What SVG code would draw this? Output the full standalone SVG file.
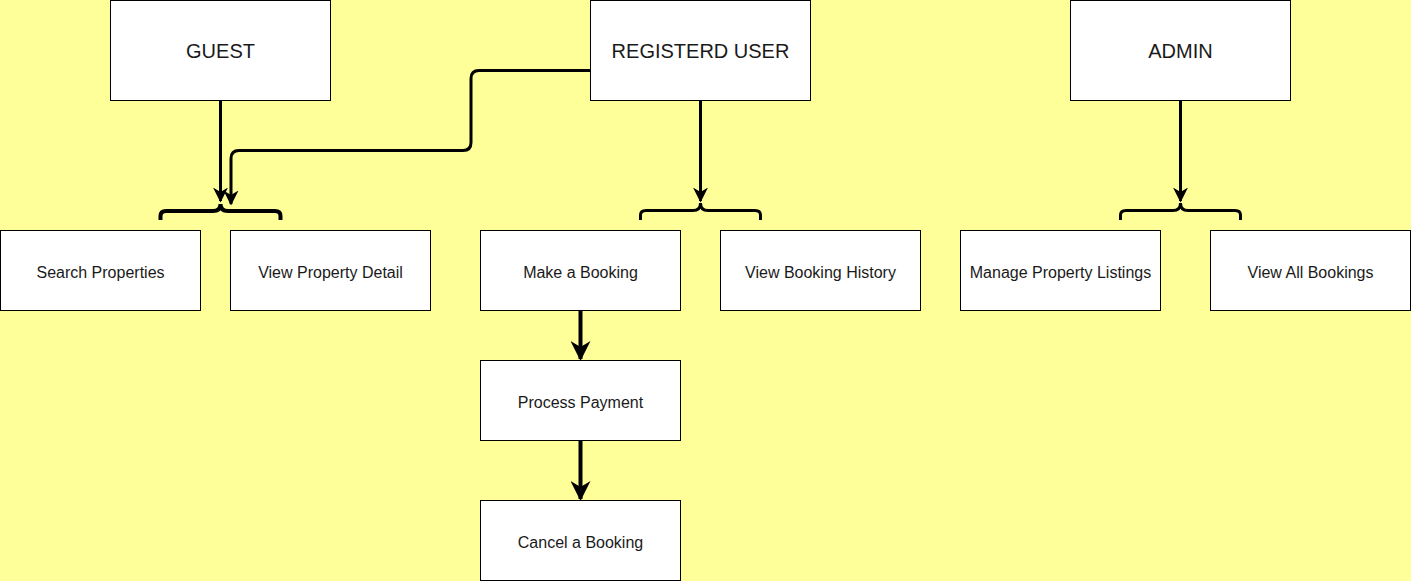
<svg xmlns="http://www.w3.org/2000/svg" width="1411" height="581" viewBox="0 0 1411 581">
<defs>
<marker id="ah" viewBox="0 0 10 10" refX="9" refY="5" markerWidth="5" markerHeight="5" orient="auto" markerUnits="strokeWidth">
<path d="M0,0 L10,5 L0,10 L3,5 Z" fill="#000"/>
</marker>
<marker id="ah2" viewBox="0 0 10 10" refX="9" refY="5" markerWidth="5" markerHeight="5" orient="auto" markerUnits="strokeWidth">
<path d="M0,0 L10,5 L0,10 L3,5 Z" fill="#000"/>
</marker>
</defs>
<style>
.box{fill:#fff;stroke:#000;stroke-width:1}
.t1{font-family:"Liberation Sans",Arial,sans-serif;font-size:20px;fill:#1a1a1a;text-anchor:middle;dominant-baseline:central}
.t2{font-family:"Liberation Sans",Arial,sans-serif;font-size:16px;fill:#1a1a1a;text-anchor:middle;dominant-baseline:central}
.c{fill:none;stroke:#000;stroke-width:3;stroke-linejoin:round}
.c4{fill:none;stroke:#000;stroke-width:4}
.br{fill:none;stroke:#000;stroke-width:3}
</style>
<rect width="1411" height="581" fill="#ffff99"/>
<g id="connectors">
<path class="c" d="M220.5,100.5 V201" marker-end="url(#ah)"/>
<path class="c" d="M590.5,70.5 H479 Q471,70.5 471,78.5 V142.5 Q471,150.5 463,150.5 H239 Q231,150.5 231,158.5 V204" marker-end="url(#ah)"/>
<path class="c" d="M700.5,100.5 V201" marker-end="url(#ah)"/>
<path class="c" d="M1180.5,100.5 V201" marker-end="url(#ah)"/>
<path class="c4" d="M580.5,310.5 V359" marker-end="url(#ah2)"/>
<path class="c4" d="M580.5,440.5 V499" marker-end="url(#ah2)"/>
<path class="br" style="stroke-width:4" d="M160.5,220 V216 Q160.5,211 166,211 H213 Q220.5,211 220.5,204 Q220.5,211 228,211 H275 Q280.5,211 280.5,216 V220"/>
<path class="br" d="M640.5,220 V215 Q640.5,210.5 646,210.5 H693 Q700.5,210.5 700.5,203 Q700.5,210.5 708,210.5 H755 Q760.5,210.5 760.5,215 V220"/>
<path class="br" d="M1120.5,220 V215 Q1120.5,210.5 1126,210.5 H1173 Q1180.5,210.5 1180.5,203 Q1180.5,210.5 1188,210.5 H1235 Q1240.5,210.5 1240.5,215 V220"/>
</g>
<g id="guest"><rect class="box" x="110.5" y="0.5" width="220" height="100"/><text class="t1" x="220.5" y="50.5">GUEST</text></g>
<g id="registered"><rect class="box" x="590.5" y="0.5" width="220" height="100"/><text class="t1" x="700.5" y="50.5">REGISTERD USER</text></g>
<g id="admin"><rect class="box" x="1070.5" y="0.5" width="220" height="100"/><text class="t1" x="1180.5" y="50.5">ADMIN</text></g>
<g id="search"><rect class="box" x="0.5" y="230.5" width="200" height="80"/><text class="t2" x="100.5" y="272.5">Search Properties</text></g>
<g id="viewdetail"><rect class="box" x="230.5" y="230.5" width="200" height="80"/><text class="t2" x="330.5" y="272.5">View Property Detail</text></g>
<g id="makebooking"><rect class="box" x="480.5" y="230.5" width="200" height="80"/><text class="t2" x="580.5" y="272.5">Make a Booking</text></g>
<g id="history"><rect class="box" x="720.5" y="230.5" width="200" height="80"/><text class="t2" x="820.5" y="272.5">View Booking History</text></g>
<g id="manage"><rect class="box" x="960.5" y="230.5" width="200" height="80"/><text class="t2" x="1060.5" y="272.5">Manage Property Listings</text></g>
<g id="allbookings"><rect class="box" x="1210.5" y="230.5" width="200" height="80"/><text class="t2" x="1310.5" y="272.5">View All Bookings</text></g>
<g id="payment"><rect class="box" x="480.5" y="360.5" width="200" height="80"/><text class="t2" x="580.5" y="402.5">Process Payment</text></g>
<g id="cancel"><rect class="box" x="480.5" y="500.5" width="200" height="80"/><text class="t2" x="580.5" y="542.5">Cancel a Booking</text></g>
</svg>
